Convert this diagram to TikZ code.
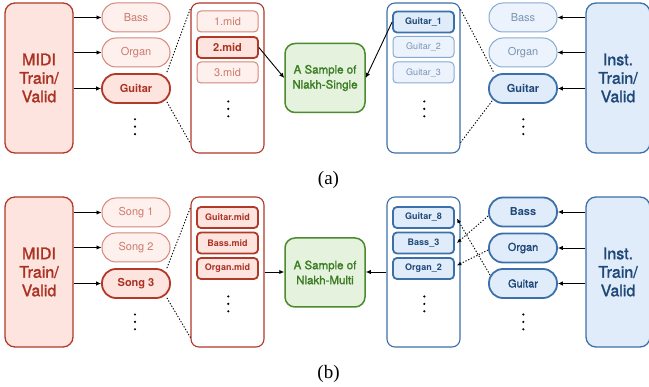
\documentclass[tikz,border=0pt]{standalone}
\usepackage{fontspec}
\setmainfont{TeX Gyre Heros}
\newfontfamily\medfont{TeX Gyre Heros}[FakeBold=1.6]
\newfontfamily\capfont{Liberation Serif}
\usetikzlibrary{arrows.meta,calc}
\definecolor{redB}{RGB}{178,56,40}
\definecolor{redF}{RGB}{253,228,223}
\definecolor{redT}{RGB}{170,50,35}
\definecolor{redLB}{RGB}{212,135,122}
\definecolor{redLF}{RGB}{254,240,237}
\definecolor{redLT}{RGB}{205,122,110}
\definecolor{blueB}{RGB}{60,112,170}
\definecolor{blueF}{RGB}{225,236,250}
\definecolor{blueT}{RGB}{30,72,120}
\definecolor{blueLB}{RGB}{135,170,212}
\definecolor{blueLF}{RGB}{236,243,252}
\definecolor{blueLT}{RGB}{120,148,180}
\definecolor{greenB}{RGB}{75,138,45}
\definecolor{greenF}{RGB}{229,242,222}
\definecolor{greenT}{RGB}{60,125,35}
\tikzset{
  big/.style={draw, rounded corners=10pt, line width=1.3pt, minimum width=68pt, minimum height=150pt, inner sep=0pt, align=center, font=\medfont\fontsize{16}{18.5}\selectfont},
  redbig/.style={big, draw=redB, fill=redF, text=redT},
  bluebig/.style={big, draw=blueB, fill=blueF, text=blueT, minimum width=64pt},
  pillbase/.style={draw, rounded corners=14pt, minimum width=68pt, minimum height=29pt, inner sep=0pt},
  redpillfade/.style={pillbase, draw=redLB, fill=redLF, text=redLT, line width=1pt, font=\fontsize{11}{13}\selectfont},
  redpillon/.style={pillbase, draw=redB, fill=redF, text=redT, line width=1.8pt, font=\fontsize{11}{13}\selectfont\bfseries},
  bluepillfade/.style={pillbase, draw=blueLB, fill=blueLF, text=blueLT, line width=1pt, font=\fontsize{11}{13}\selectfont},
  bluepillon/.style={pillbase, draw=blueB, fill=blueF, text=blueT, line width=1.8pt, font=\fontsize{11}{13}\selectfont\bfseries},
  bluepillmid/.style={pillbase, draw=blueB, fill=blueF, text=blueT, line width=1.8pt, font=\medfont\fontsize{11}{13}\selectfont},
  container/.style={draw, rounded corners=8pt, minimum width=73pt, minimum height=150pt, inner sep=0pt, fill=white, line width=1.1pt},
  redcont/.style={container, draw=redB},
  bluecont/.style={container, draw=blueB},
  filebase/.style={draw, rounded corners=4pt, minimum width=61pt, minimum height=21pt, inner sep=0pt},
  redfilefade/.style={filebase, draw=redLB, fill=redLF, text=redLT, line width=1pt, font=\fontsize{11}{13}\selectfont},
  redfileon/.style={filebase, draw=redB, fill=redF, text=redT, line width=1.8pt, font=\fontsize{11}{13}\selectfont\bfseries},
  redfilesm/.style={filebase, draw=redB, fill=redF, text=redT, line width=1.8pt, font=\fontsize{9}{11}\selectfont\bfseries},
  bluefileon/.style={filebase, draw=blueB, fill=blueF, text=blueT, line width=1.8pt, font=\fontsize{9}{11}\selectfont\bfseries},
  bluefilefade/.style={filebase, draw=blueLB, fill=blueLF, text=blueLT, line width=1pt, font=\fontsize{9}{11}\selectfont},
  greenbox/.style={draw=greenB, fill=greenF, text=greenT, line width=1.5pt, rounded corners=10pt, minimum width=80pt, minimum height=69pt, inner sep=0pt, align=center, font=\medfont\fontsize{11.5}{15}\selectfont},
  arr/.style={-{Latex[length=5pt,width=4.5pt]}, line width=0.9pt, black},
  zoomline/.style={line width=0.9pt, dash pattern=on 1.3pt off 1.7pt, black},
  darr/.style={zoomline, -{Latex[length=4.5pt,width=4pt]}},
  captext/.style={font=\capfont\fontsize{19}{22}\selectfont, inner sep=0pt}
}
\begin{document}
\begin{tikzpicture}[x=1pt,y=-1pt]
\useasboundingbox (0,0) rectangle (649,387);
% ---------------- (a) ----------------
\node[redbig] (a-midi) at (39,78) {MIDI\\Train/\\Valid};
\node[redpillfade] (a-bass) at (136,17.5) {Bass};
\node[redpillfade] (a-organ) at (136,52.5) {Organ};
\node[redpillon] (a-guitar) at (136,88.5) {Guitar};
\node[redcont] (a-cont) at (227.5,78) {};
\node[redfilefade] (a-m1) at (227.5,21.5) {1.mid};
\node[redfileon] (a-m2) at (227.5,47.5) {2.mid};
\node[redfilefade] (a-m3) at (227.5,72.5) {3.mid};
\node[greenbox] (a-green) at (325,78) {A Sample of\\Nlakh-Single};
\node[bluecont] (a-rcont) at (423.5,78) {};
\node[bluefileon] (a-g1) at (423.5,22) {Guitar\_1};
\node[bluefilefade] (a-g2) at (423.5,47) {Guitar\_2};
\node[bluefilefade] (a-g3) at (423.5,72.5) {Guitar\_3};
\node[bluepillfade] (a-rbass) at (523,17.5) {Bass};
\node[bluepillfade] (a-rorgan) at (523,52.5) {Organ};
\node[bluepillon] (a-rguitar) at (523,88.5) {Guitar};
\node[bluebig] (a-inst) at (618,78) {Inst.\\Train/\\Valid};
\foreach \x/\y in {135/119.3,228.3/101.5,424.3/101.5,523.3/119.3}{
  \fill (\x,\y) circle (1.2pt) (\x,\y+7.4) circle (1.2pt) (\x,\y+14.8) circle (1.2pt);
}
\foreach \n in {bass,organ,guitar}{
  \draw[arr] (a-midi.east |- a-\n) -- (a-\n.west);
  \draw[arr] (a-inst.west |- a-r\n) -- (a-r\n.east);
}
\draw[zoomline] ($(a-guitar.north east)+(-4,-1)$) -- ($(a-cont.north west)+(0,6)$);
\draw[zoomline] ($(a-guitar.south east)+(-4,-2)$) -- ($(a-cont.south west)+(0,-10)$);
\draw[zoomline] ($(a-rcont.north east)+(0,7)$) -- ($(a-rguitar.north west)+(6,0)$);
\draw[zoomline] ($(a-rguitar.south west)+(4,-3)$) -- ($(a-rcont.south east)+(0,-11)$);
\draw[arr] (a-m2.east) -- (a-green.west);
\draw[arr] (a-g1.west) -- (a-green.east);
\node[captext] (a-cap) at (328.5,180) {(a)};
% ---------------- (b) ----------------
\node[redbig] (b-midi) at (39,272) {MIDI\\Train/\\Valid};
\node[redpillfade] (b-s1) at (136,212.5) {Song 1};
\node[redpillfade] (b-s2) at (136,247.5) {Song 2};
\node[redpillon] (b-s3) at (136,283.5) {Song 3};
\node[redcont] (b-cont) at (227.5,272) {};
\node[redfilesm] (b-m1) at (227.5,217.5) {Guitar.mid};
\node[redfilesm] (b-m2) at (227.5,243) {Bass.mid};
\node[redfilesm] (b-m3) at (227.5,268.5) {Organ.mid};
\node[greenbox] (b-green) at (325,272.5) {A Sample of\\Nlakh-Multi};
\node[bluecont] (b-rcont) at (423.5,272) {};
\node[bluefileon] (b-f1) at (423.5,217.5) {Guitar\_8};
\node[bluefileon] (b-f2) at (423.5,243) {Bass\_3};
\node[bluefileon] (b-f3) at (423.5,268.5) {Organ\_2};
\node[bluepillon] (b-rbass) at (523,212) {Bass};
\node[bluepillmid] (b-rorgan) at (523,248) {Organ};
\node[bluepillmid] (b-rguitar) at (523,283.5) {Guitar};
\node[bluebig] (b-inst) at (618,272) {Inst.\\Train/\\Valid};
\foreach \x/\y in {135/314.5,228.3/296.5,424.3/296.5,523.3/314.5}{
  \fill (\x,\y) circle (1.2pt) (\x,\y+7.4) circle (1.2pt) (\x,\y+14.8) circle (1.2pt);
}
\foreach \n in {s1,s2,s3}{
  \draw[arr] (b-midi.east |- b-\n) -- (b-\n.west);
}
\foreach \n in {bass,organ,guitar}{
  \draw[arr] (b-inst.west |- b-r\n) -- (b-r\n.east);
}
\draw[zoomline] ($(b-s3.north east)+(-4,0)$) -- ($(b-cont.north west)+(0,11)$);
\draw[zoomline] ($(b-s3.south east)+(-4,-1)$) -- ($(b-cont.south west)+(0,-10)$);
\draw[arr] (b-cont.east) -- (b-cont.east -| b-green.west);
\draw[arr] (b-rcont.west) -- (b-rcont.west -| b-green.east);
\draw[darr] ($(b-rbass.west)+(0,4)$) -- ($(b-f2.east)+(2,0)$);
\draw[darr] ($(b-rorgan.west)+(0,2)$) -- ($(b-f3.east)+(2,-3)$);
\draw[darr] ($(b-rguitar.north west)+(2,7)$) -- ($(b-f1.east)+(2,1)$);
\node[captext] (b-cap) at (328.5,374) {(b)};
\end{tikzpicture}
\end{document}
